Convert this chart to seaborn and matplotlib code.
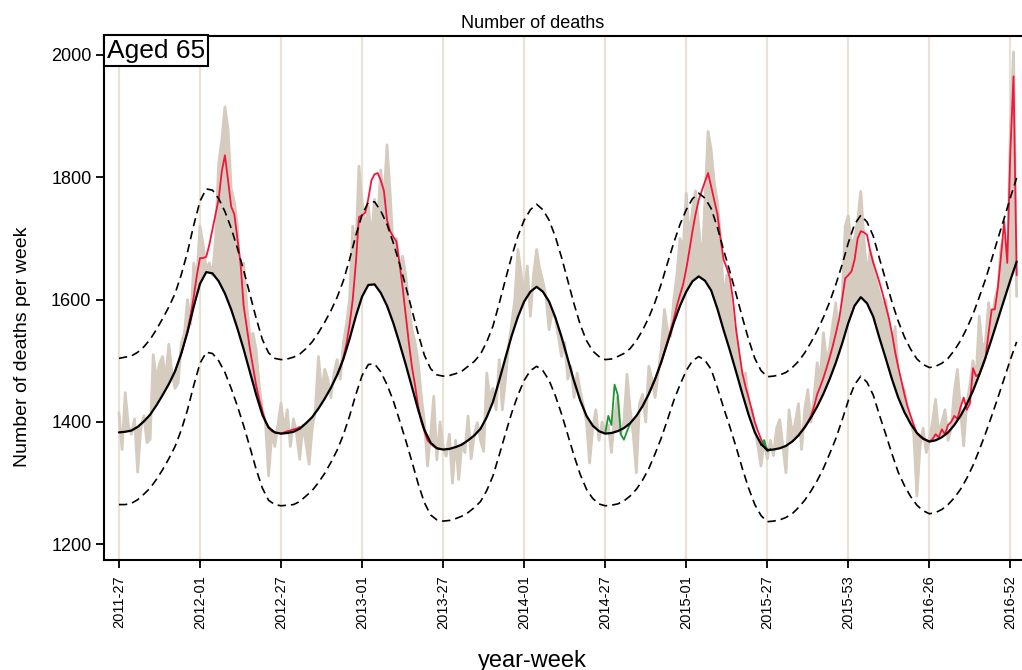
import numpy as np
import matplotlib
matplotlib.use("Agg")
import matplotlib.pyplot as plt
import seaborn as sns

# x axis: weeks counted from 2011-27
label_weeks = [0, 26, 52, 78, 104, 130, 156, 182, 208, 234, 260, 286]
week_labels = ["2011-27", "2012-01", "2012-27", "2013-01", "2013-27", "2014-01",
               "2014-27", "2015-01", "2015-27", "2015-53", "2016-26", "2016-52"]
y_ticks = [1200, 1400, 1600, 1800, 2000]

# observed deaths per week (weekly, from 2011-27)
observed = [
    1415, 1355, 1448, 1395, 1380, 1405, 1318, 1390, 1410, 1366, 1372, 1510, 1470, 1495, 1507, 1469, 1527, 1480, 1455, 1464, 1529,
    1545, 1600, 1560, 1660, 1635, 1720, 1690, 1650, 1660, 1640, 1700, 1823, 1861, 1915, 1878, 1782, 1760, 1720, 1616, 1660,
    1590, 1540, 1545, 1518, 1458, 1420, 1400, 1312, 1380, 1360, 1395, 1431,
    1388, 1420, 1360, 1405, 1380, 1339, 1395, 1365, 1331, 1390, 1420, 1507, 1450, 1486, 1470, 1440, 1480, 1502,
    1470, 1530, 1560, 1600, 1720, 1680, 1818, 1760, 1714, 1753, 1700, 1764, 1730, 1812, 1760, 1853, 1774, 1680, 1700, 1650,
    1671, 1640, 1590, 1551, 1530, 1497, 1442, 1400, 1328, 1380, 1442, 1338, 1400, 1360,
    1344, 1380, 1300, 1370, 1306, 1365, 1350, 1410, 1340, 1380, 1399, 1370, 1352, 1480, 1440, 1455, 1420, 1502, 1420, 1470,
    1524, 1560, 1600, 1682, 1644, 1610, 1655, 1573, 1640, 1682, 1650, 1630, 1605, 1551, 1580, 1570, 1540, 1507, 1530, 1470,
    1491, 1440, 1480, 1450, 1426, 1400, 1333, 1390, 1420, 1370, 1400, 1385,
    1395, 1350, 1410, 1442, 1380, 1400, 1478, 1420, 1380, 1317, 1430, 1445, 1400, 1491, 1470, 1440, 1480, 1520, 1584, 1550,
    1540, 1600, 1640, 1700, 1680, 1774, 1700, 1747, 1778, 1720, 1654, 1760, 1875, 1845, 1790, 1760, 1700, 1600, 1640, 1610,
    1560, 1540, 1500, 1470, 1480, 1430, 1420, 1390, 1360, 1328, 1370, 1340,
    1370, 1345, 1390, 1404, 1360, 1317, 1420, 1380, 1400, 1430, 1355, 1420, 1453, 1400, 1440, 1497, 1470, 1546, 1500, 1520,
    1560, 1595, 1513, 1600, 1720, 1737, 1690, 1700, 1730, 1777, 1700, 1638, 1680, 1660, 1630, 1610, 1589, 1600, 1560, 1520,
    1556, 1480, 1460, 1453, 1420, 1400, 1380, 1279, 1360, 1390, 1350, 1370, 1400, 1437, 1380, 1400, 1420, 1370, 1390, 1450,
    1486, 1420, 1361, 1430, 1460, 1500, 1470, 1573, 1520, 1530, 1595, 1560, 1600, 1620, 1687, 1700, 1640, 1878, 2005, 1605,
]

# baseline and prediction limits, every second week
baseline = [
    1383, 1384, 1386, 1392, 1401, 1412, 1427, 1444, 1462, 1483, 1512, 1547, 1589, 1626, 1645, 1643, 1630, 1610, 1584, 1553,
    1519, 1482, 1445, 1412, 1391, 1383, 1381, 1382, 1384, 1389, 1398, 1408, 1422, 1438, 1456, 1477, 1503, 1536, 1573, 1605,
    1624, 1625, 1611, 1590, 1562, 1529, 1494, 1457, 1420, 1387, 1366, 1357, 1355, 1356, 1359, 1363, 1370, 1378, 1389, 1408,
    1433, 1468, 1505, 1541, 1572, 1597, 1613, 1621, 1613, 1597, 1571, 1539, 1503, 1467, 1435, 1410, 1394, 1385, 1381, 1382,
    1385, 1390, 1398, 1410, 1426, 1446, 1470, 1498, 1530, 1562, 1590, 1613, 1630, 1638, 1631, 1615, 1585, 1550, 1517, 1482,
    1446, 1412, 1383, 1364, 1354, 1355, 1357, 1361, 1368, 1378, 1391, 1407, 1425, 1446, 1470, 1497, 1528, 1562, 1590, 1604,
    1594, 1572, 1537, 1504, 1470, 1440, 1416, 1397, 1382, 1373, 1368, 1370, 1375, 1383, 1395, 1410, 1429, 1451, 1477, 1505,
    1536, 1568, 1600, 1632, 1662,
]
upper = [
    1504, 1506, 1508, 1514, 1523, 1535, 1551, 1569, 1588, 1610, 1641, 1678, 1722, 1761, 1781, 1779, 1765, 1744, 1717, 1684,
    1648, 1609, 1570, 1535, 1513, 1504, 1502, 1503, 1506, 1511, 1520, 1531, 1546, 1563, 1582, 1604, 1631, 1666, 1705, 1739,
    1759, 1760, 1745, 1723, 1693, 1659, 1622, 1583, 1544, 1509, 1487, 1477, 1475, 1476, 1479, 1483, 1491, 1499, 1511, 1531,
    1557, 1594, 1633, 1671, 1704, 1730, 1747, 1756, 1747, 1730, 1703, 1669, 1631, 1593, 1559, 1533, 1516, 1507, 1502, 1503,
    1507, 1512, 1520, 1533, 1550, 1571, 1596, 1626, 1660, 1693, 1723, 1747, 1765, 1774, 1766, 1749, 1718, 1681, 1646, 1609,
    1571, 1535, 1504, 1484, 1474, 1475, 1477, 1481, 1489, 1499, 1513, 1530, 1549, 1571, 1596, 1625, 1657, 1693, 1723, 1738,
    1727, 1704, 1667, 1632, 1596, 1565, 1539, 1519, 1503, 1494, 1489, 1491, 1496, 1504, 1517, 1533, 1553, 1576, 1604, 1633,
    1666, 1700, 1733, 1767, 1799,
]
lower = [
    1265, 1265, 1267, 1273, 1282, 1292, 1306, 1322, 1340, 1360, 1387, 1420, 1460, 1496, 1514, 1512, 1500, 1481, 1455, 1426,
    1394, 1359, 1323, 1292, 1272, 1265, 1263, 1264, 1265, 1270, 1279, 1288, 1301, 1316, 1334, 1354, 1379, 1410, 1445, 1476,
    1494, 1495, 1482, 1461, 1435, 1403, 1370, 1335, 1299, 1268, 1248, 1240, 1238, 1239, 1242, 1246, 1252, 1260, 1270, 1288,
    1312, 1346, 1381, 1415, 1444, 1468, 1484, 1491, 1484, 1468, 1443, 1413, 1379, 1345, 1314, 1290, 1275, 1266, 1263, 1264,
    1266, 1271, 1279, 1290, 1305, 1324, 1348, 1374, 1404, 1435, 1461, 1484, 1500, 1507, 1501, 1486, 1456, 1423, 1392, 1359,
    1324, 1292, 1265, 1247, 1237, 1238, 1240, 1244, 1250, 1260, 1272, 1287, 1304, 1324, 1348, 1373, 1403, 1435, 1461, 1475,
    1465, 1444, 1411, 1380, 1348, 1318, 1296, 1278, 1264, 1255, 1250, 1252, 1257, 1265, 1276, 1290, 1308, 1329, 1354, 1381,
    1410, 1440, 1471, 1502, 1531,
]

# red line (winter seasons), weekly from the given start week
red_2012_start = 18
red_2012 = [1483, 1497, 1512, 1530, 1550, 1575, 1605, 1640, 1668, 1668, 1670, 1690, 1715, 1740, 1765, 1810, 1836, 1795,
            1752, 1740, 1700, 1660, 1590, 1555, 1520, 1490, 1460, 1437, 1418, 1400, 1392, 1385, 1383, 1382, 1381, 1383,
            1385, 1386, 1388, 1389, 1392]
red_2013_start = 70
red_2013 = [1477, 1488, 1505, 1528, 1560, 1600, 1660, 1735, 1738, 1742, 1765, 1795, 1805, 1807, 1795, 1778, 1730, 1712,
            1703, 1695, 1660, 1620, 1575, 1530, 1490, 1460, 1425, 1400, 1385, 1370, 1365, 1360, 1357, 1356]
red_2015_start = 170
red_2015 = [1446, 1458, 1470, 1484, 1498, 1515, 1532, 1550, 1568, 1590, 1608, 1625, 1650, 1680, 1712, 1740, 1763, 1778,
            1793, 1807, 1785, 1762, 1740, 1700, 1665, 1652, 1635, 1600, 1551, 1515, 1480, 1458, 1440, 1420, 1400, 1385,
            1372, 1362, 1356]
red_2016_start = 216
red_2016 = [1368, 1373, 1378, 1385, 1392, 1400, 1410, 1425, 1445, 1458, 1472, 1488, 1505, 1524, 1545, 1567, 1600, 1635,
            1640, 1646, 1665, 1700, 1712, 1710, 1706, 1680, 1660, 1645, 1628, 1610, 1590, 1570, 1545, 1515, 1490, 1468,
            1445, 1425, 1410, 1395, 1382, 1376, 1372, 1370, 1368, 1372, 1380, 1375, 1388, 1380, 1395, 1400, 1410, 1405,
            1424, 1440, 1420, 1430, 1488, 1475, 1478, 1490, 1505, 1545, 1584, 1584, 1620, 1672, 1728, 1660, 1845, 1965,
            1640]

# green line (summer)
green_2014_start = 156
green_2014 = [1382, 1410, 1395, 1461, 1445, 1380, 1371, 1385, 1397]
green_2015_start = 206
green_2015 = [1362, 1370, 1352, 1356]

c_fill = "#d5cbbe"
c_red = "#f2163a"
c_green = "#1c9634"
c_grid = "#e8e2d8"

sns.set_style("ticks")
plt.rcParams["font.family"] = ["Liberation Sans", "DejaVu Sans"]
plt.rcParams["text.color"] = "black"
plt.rcParams["xtick.color"] = "black"
plt.rcParams["ytick.color"] = "black"
plt.rcParams["axes.labelcolor"] = "black"

fig = plt.figure(figsize=(10.22, 6.70), dpi=100)
ax = fig.add_axes([104 / 1022, 1 - 560 / 670, (1021 - 104) / 1022, (560 - 36) / 670])

weeks = np.arange(len(observed))
bweeks = np.arange(len(baseline)) * 2

for w in label_weeks:
    ax.axvline(w, color=c_grid, lw=1.6, zorder=0)

# grey area between observed and baseline, plus the observed line itself
ax.fill(
    np.concatenate([weeks, bweeks[::-1]]),
    np.concatenate([np.array(observed), np.array(baseline)[::-1]]),
    color=c_fill,
    lw=0,
    zorder=1,
)
sns.lineplot(x=weeks, y=observed, color=c_fill, lw=2.0, ax=ax, zorder=1)

for start, vals in [(red_2012_start, red_2012), (red_2013_start, red_2013),
                    (red_2015_start, red_2015), (red_2016_start, red_2016)]:
    sns.lineplot(x=start + np.arange(len(vals)), y=vals, color=c_red, lw=1.3, ax=ax, zorder=2)

for start, vals in [(green_2014_start, green_2014), (green_2015_start, green_2015)]:
    sns.lineplot(x=start + np.arange(len(vals)), y=vals, color=c_green, lw=1.3, ax=ax, zorder=3)

sns.lineplot(x=bweeks, y=baseline, color="black", lw=1.6, ax=ax, zorder=4)
for band in (upper, lower):
    sns.lineplot(x=bweeks, y=band, color="black", lw=1.2, linestyle=(0, (5, 3)), ax=ax, zorder=4)

ax.set_xlim(-4.8, 289.4)
ax.set_ylim(1174.4, 2031)
ax.set_xticks(label_weeks)
ax.set_xticklabels(week_labels, rotation=90, fontsize=10.5)
ax.set_yticks(y_ticks)
ax.set_yticklabels([str(v) for v in y_ticks], fontsize=13)
ax.tick_params(axis="both", direction="out", length=6, width=1.3, color="black",
               bottom=True, left=True, top=False, right=False)
ax.tick_params(axis="y", pad=3)
ax.tick_params(axis="x", pad=5)
ax.set_xlabel("")
ax.set_ylabel("")

for side in ["left", "bottom", "top"]:
    ax.spines[side].set_visible(True)
    ax.spines[side].set_color("black")
    ax.spines[side].set_linewidth(1.5)
ax.spines["right"].set_visible(False)

ax.text(0.003, 0.995, "Aged 65", transform=ax.transAxes, ha="left", va="top", fontsize=19,
        color="black", bbox=dict(boxstyle="square,pad=0.12", fc="white", ec="black", lw=1.5), zorder=10)

fig.text(533 / 1022, 1 - 28 / 670, "Number of deaths", ha="center", va="baseline", fontsize=13)
fig.text(532 / 1022, 3 / 670, "year-week", ha="center", va="baseline", fontsize=17)
fig.text(23 / 1022, 1 - 347 / 670, "Number of deaths per week", rotation=90,
         ha="center", va="center", fontsize=14)

fig.savefig("out.png", dpi=100)
